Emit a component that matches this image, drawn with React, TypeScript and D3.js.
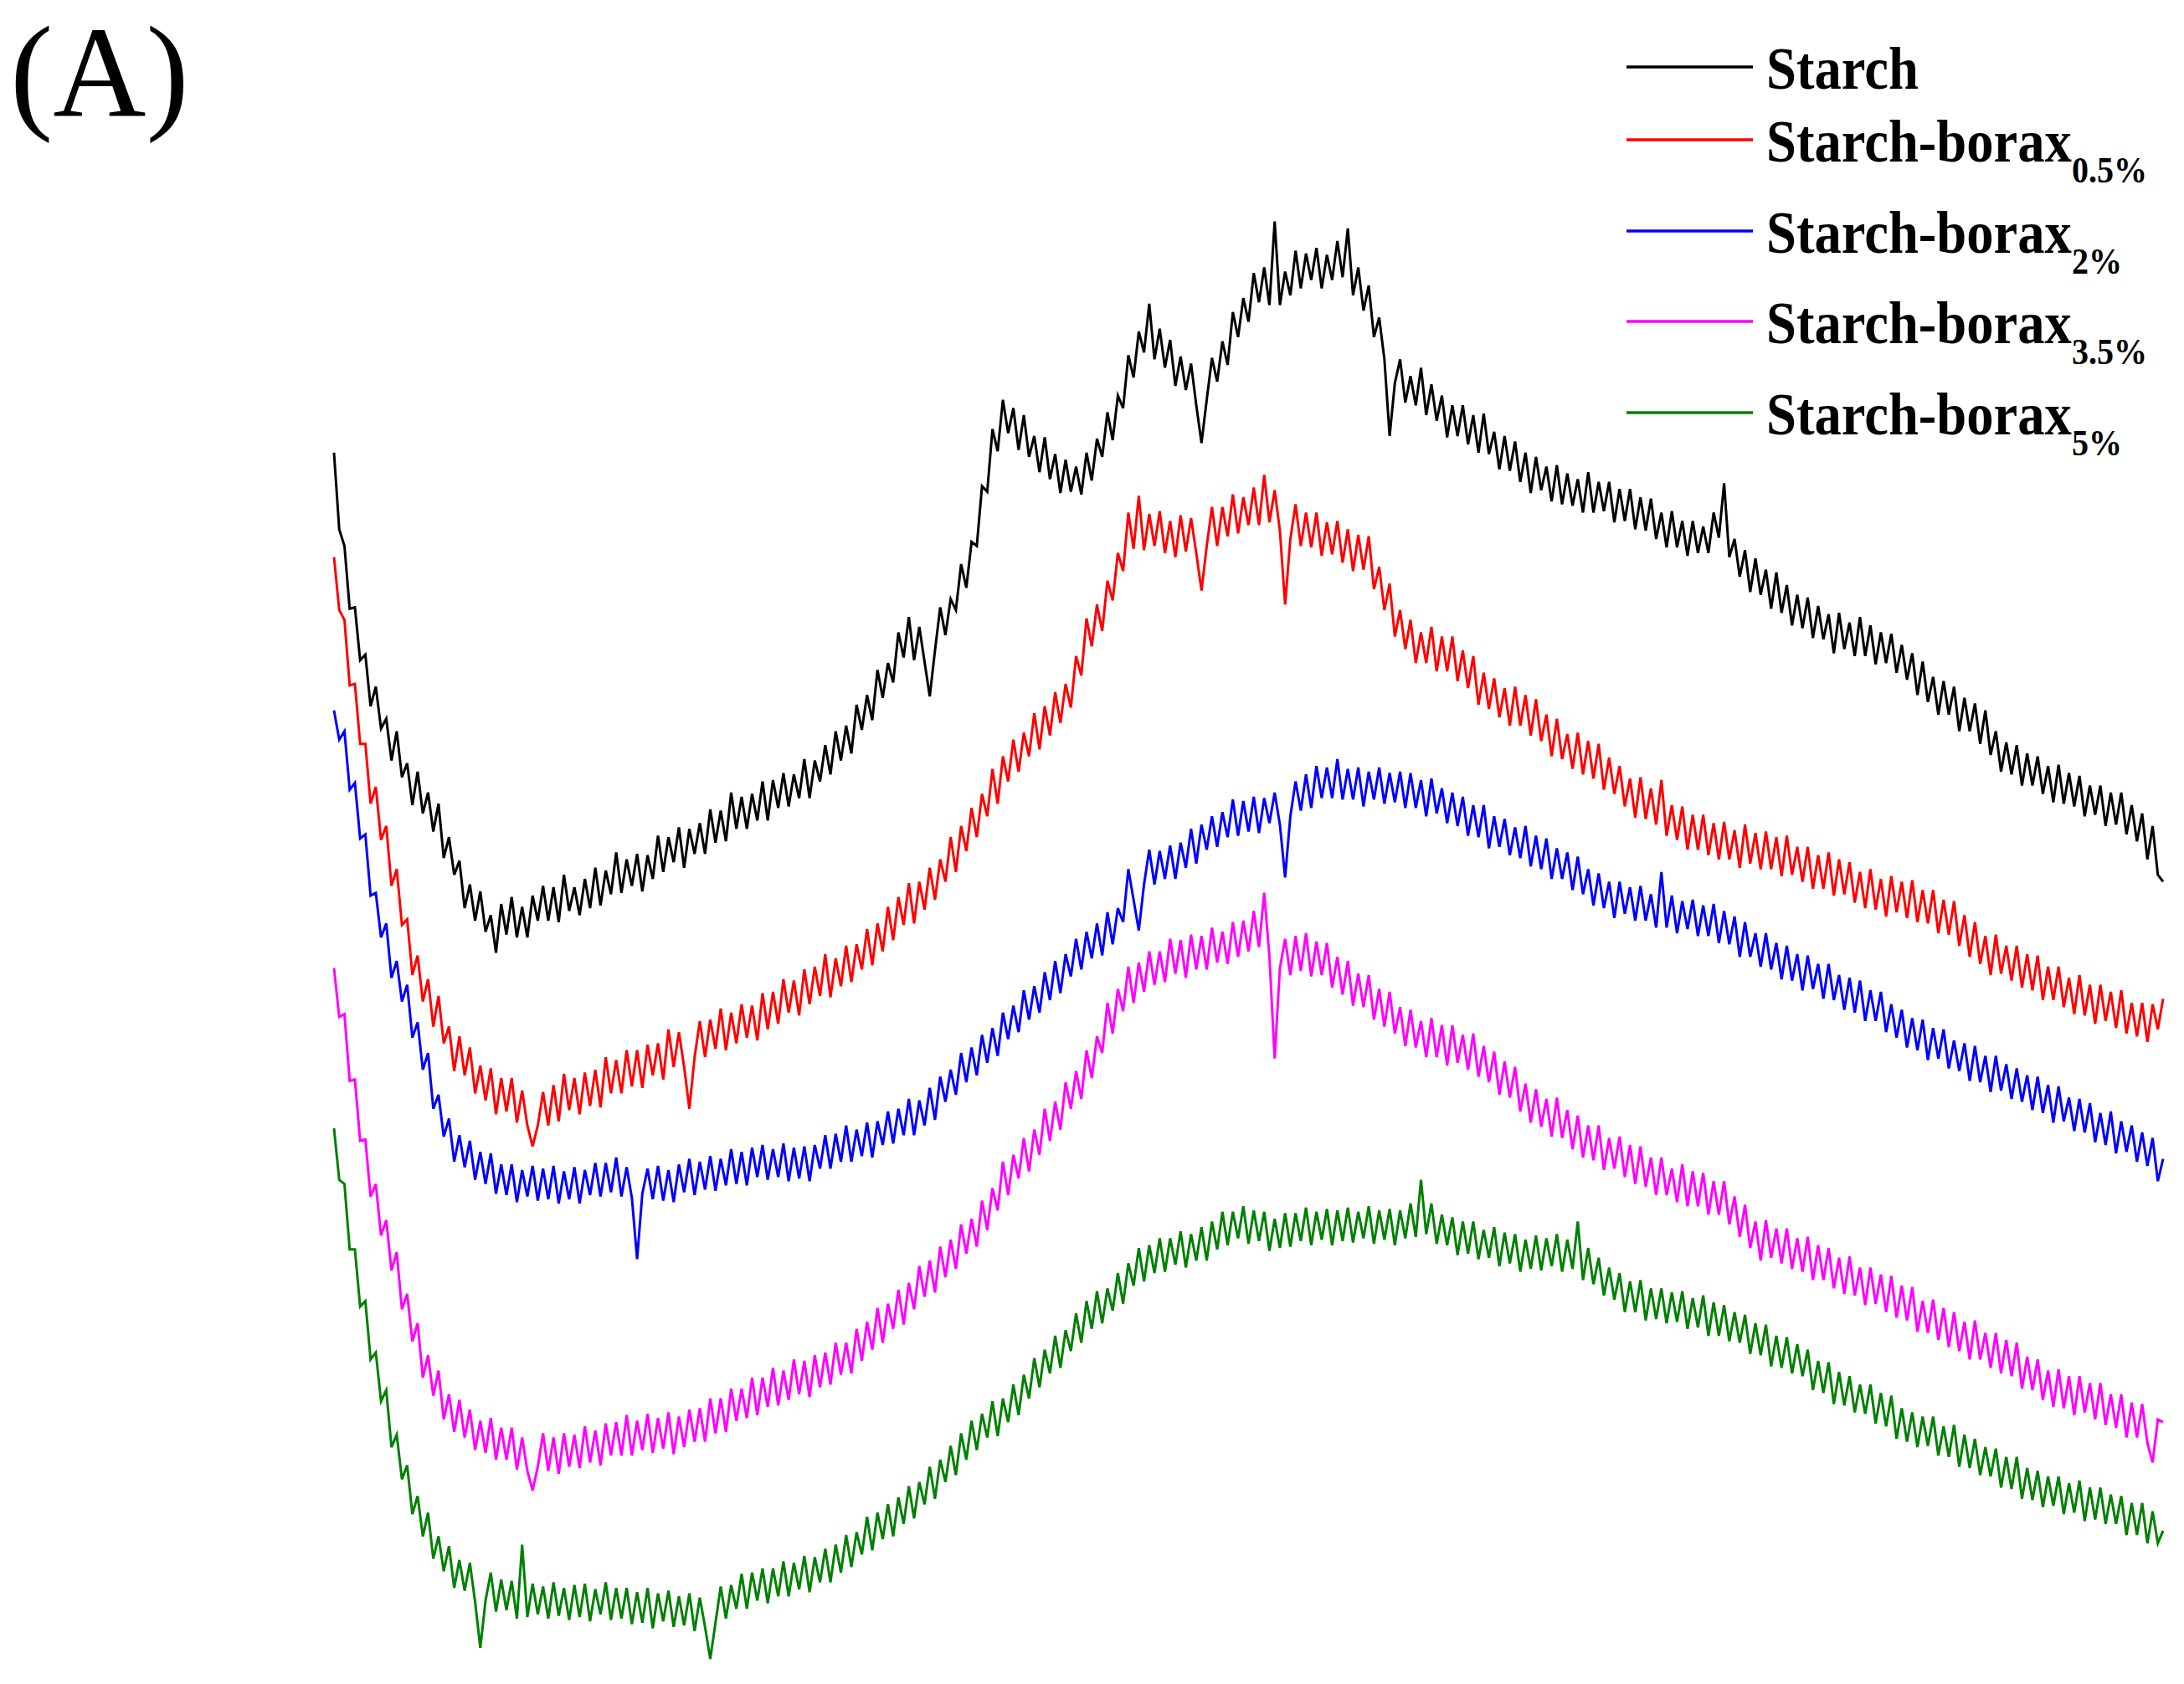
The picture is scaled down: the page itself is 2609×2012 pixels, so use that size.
import * as d3 from 'd3';

// 2-theta grid (deg): one reading every 0.1 deg from 5 to 40
const twoTheta = d3.range(351).map(i => +(5 + i * 0.1).toFixed(1));

// intensities (a.u., the five patterns are stacked with offsets)
const starch = [
  884, 829, 817, 772, 773, 735, 739, 702, 716, 686, 693, 663, 684, 651, 661, 631, 655, 625, 640, 612,
  632, 593, 608, 581, 591, 557, 574, 548, 569, 540, 552, 525, 560, 538, 565, 536, 558, 536, 566, 548,
  573, 548, 572, 547, 581, 555, 572, 552, 578, 557, 586, 559, 584, 567, 597, 568, 592, 573, 596, 569,
  595, 578, 609, 583, 608, 590, 615, 586, 614, 596, 618, 596, 628, 604, 627, 605, 640, 614, 637, 614,
  639, 620, 648, 620, 649, 629, 654, 630, 653, 636, 664, 636, 663, 648, 674, 653, 684, 663, 688, 668,
  703, 685, 710, 692, 728, 708, 733, 719, 755, 737, 766, 735, 759, 734, 709, 742, 773, 753, 779, 771,
  804, 787, 820, 817, 860, 856, 901, 885, 922, 898, 916, 886, 911, 881, 896, 870, 895, 865, 883, 855,
  879, 856, 874, 854, 884, 864, 894, 881, 913, 893, 925, 916, 954, 938, 971, 956, 991, 951, 973, 945,
  965, 932, 953, 929, 948, 918, 891, 922, 952, 935, 964, 947, 985, 967, 995, 978, 1013, 992, 1017, 990,
  1050, 990, 1014, 997, 1029, 1002, 1027, 1008, 1031, 1002, 1026, 1008, 1036, 1010, 1045, 997, 1017, 986, 1004, 967,
  981, 951, 896, 934, 951, 920, 939, 918, 945, 911, 933, 907, 925, 895, 918, 896, 918, 890, 911, 884,
  912, 883, 899, 872, 896, 871, 892, 863, 884, 855, 881, 857, 874, 849, 875, 847, 869, 846, 865, 841,
  870, 841, 863, 842, 863, 834, 858, 835, 858, 829, 852, 828, 851, 822, 841, 816, 842, 816, 835, 810,
  835, 812, 831, 812, 841, 823, 862, 809, 822, 795, 814, 784, 808, 782, 800, 772, 798, 769, 789, 760,
  782, 758, 780, 751, 774, 750, 768, 740, 769, 743, 762, 738, 766, 738, 760, 732, 755, 733, 754, 726,
  746, 721, 740, 710, 734, 705, 723, 696, 720, 696, 716, 684, 708, 684, 704, 675, 699, 667, 684, 655,
  676, 653, 674, 645, 668, 645, 666, 639, 659, 633, 660, 632, 654, 630, 652, 623, 645, 624, 645, 616,
  640, 617, 640, 610, 631, 605, 625, 592, 616, 581, 576,
];

const borax05 = [
  809, 771, 764, 717, 718, 675, 675, 632, 644, 606, 616, 573, 585, 545, 549, 509, 523, 490, 506, 472,
  494, 460, 472, 440, 465, 437, 457, 424, 444, 419, 442, 409, 435, 411, 435, 403, 426, 401, 386, 401,
  425, 401, 430, 404, 438, 412, 435, 409, 439, 415, 441, 414, 450, 424, 448, 424, 455, 429, 455, 428,
  459, 437, 460, 434, 470, 443, 468, 443, 413, 450, 476, 450, 477, 456, 485, 455, 482, 460, 488, 464,
  487, 462, 496, 470, 497, 474, 506, 482, 505, 480, 513, 488, 515, 494, 524, 493, 521, 501, 530, 504,
  531, 513, 542, 516, 546, 526, 558, 534, 565, 545, 575, 546, 576, 556, 586, 563, 592, 576, 608, 583,
  616, 598, 629, 608, 639, 623, 657, 632, 666, 648, 678, 655, 683, 666, 697, 671, 702, 681, 712, 690,
  718, 701, 738, 724, 765, 745, 775, 756, 792, 778, 812, 799, 841, 815, 853, 814, 840, 817, 842, 812,
  835, 809, 839, 813, 837, 812, 785, 817, 845, 817, 845, 824, 854, 826, 852, 832, 859, 832, 868, 834,
  857, 828, 775, 822, 847, 817, 841, 816, 841, 810, 834, 811, 835, 805, 829, 799, 825, 800, 824, 786,
  802, 771, 790, 752, 771, 743, 764, 733, 755, 733, 759, 727, 752, 727, 752, 720, 742, 715, 738, 703,
  726, 700, 722, 694, 715, 688, 716, 688, 710, 681, 707, 677, 696, 666, 693, 664, 682, 657, 683, 653,
  677, 650, 675, 642, 665, 639, 659, 630, 650, 622, 651, 621, 643, 617, 649, 609, 631, 606, 630, 599,
  624, 599, 624, 595, 618, 592, 619, 592, 613, 586, 617, 589, 611, 585, 612, 585, 608, 580, 609, 581,
  601, 576, 601, 571, 595, 571, 597, 566, 592, 567, 590, 561, 583, 557, 585, 556, 578, 551, 580, 554,
  576, 550, 577, 547, 570, 546, 570, 539, 563, 538, 562, 530, 552, 522, 547, 517, 537, 509, 538, 510,
  530, 505, 530, 500, 524, 498, 523, 491, 515, 491, 515, 486, 507, 481, 509, 480, 502, 474, 502, 476,
  497, 471, 498, 467, 489, 465, 489, 461, 488, 470, 492,
];

const borax2 = [
  699, 678, 684, 642, 647, 607, 610, 566, 568, 536, 546, 507, 519, 490, 502, 464, 475, 441, 453, 413,
  423, 393, 406, 375, 394, 371, 390, 362, 382, 359, 381, 352, 373, 351, 373, 346, 369, 350, 372, 347,
  370, 348, 372, 345, 368, 348, 371, 345, 369, 351, 374, 350, 374, 353, 378, 350, 371, 349, 305, 352,
  370, 348, 372, 347, 369, 346, 373, 353, 377, 351, 375, 355, 379, 354, 377, 358, 384, 359, 382, 358,
  385, 364, 387, 362, 384, 364, 388, 361, 385, 363, 386, 361, 387, 370, 394, 370, 395, 375, 401, 375,
  398, 379, 403, 378, 404, 387, 411, 388, 413, 394, 420, 394, 419, 401, 428, 405, 436, 418, 441, 423,
  453, 432, 457, 437, 466, 446, 471, 451, 482, 463, 487, 468, 498, 477, 501, 482, 511, 491, 519, 496,
  524, 508, 535, 513, 540, 521, 546, 523, 554, 531, 557, 547, 585, 563, 541, 574, 599, 574, 598, 578,
  602, 578, 604, 586, 614, 589, 617, 599, 623, 601, 626, 608, 635, 609, 634, 612, 637, 611, 636, 618,
  640, 617, 579, 623, 648, 627, 653, 629, 659, 636, 658, 636, 664, 635, 657, 635, 658, 630, 655, 635,
  658, 632, 654, 633, 655, 629, 654, 629, 649, 623, 650, 625, 643, 618, 640, 616, 637, 609, 631, 608,
  631, 600, 623, 601, 621, 595, 615, 593, 616, 587, 609, 585, 607, 578, 600, 578, 597, 570, 594, 567,
  585, 559, 582, 557, 576, 550, 576, 553, 572, 548, 573, 548, 567, 543, 583, 543, 566, 539, 562, 542,
  563, 537, 559, 537, 560, 532, 555, 531, 551, 522, 547, 522, 539, 515, 539, 513, 532, 506, 530, 505,
  524, 498, 523, 499, 517, 492, 517, 491, 509, 484, 507, 482, 505, 476, 498, 476, 497, 468, 488, 464,
  484, 457, 478, 455, 477, 448, 471, 449, 470, 442, 462, 440, 460, 433, 458, 432, 451, 425, 451, 426,
  445, 420, 442, 418, 437, 412, 436, 410, 430, 403, 429, 404, 421, 397, 420, 396, 417, 389, 410, 387,
  411, 381, 404, 382, 401, 375, 396, 372, 392, 361, 377,
];

const borax35 = [
  514, 479, 481, 433, 434, 390, 391, 350, 359, 322, 333, 297, 310, 269, 280, 246, 259, 220, 236, 207,
  225, 190, 208, 181, 204, 177, 197, 168, 189, 166, 191, 161, 184, 161, 184, 154, 177, 153, 139, 156,
  180, 153, 177, 151, 180, 156, 179, 155, 185, 159, 182, 157, 187, 164, 188, 164, 193, 164, 189, 168,
  194, 166, 191, 169, 195, 165, 192, 170, 197, 174, 198, 174, 205, 180, 205, 181, 212, 189, 212, 191,
  220, 193, 220, 199, 227, 200, 225, 204, 233, 208, 232, 206, 236, 213, 238, 215, 245, 222, 245, 223,
  255, 232, 260, 240, 270, 245, 273, 255, 283, 258, 288, 269, 300, 278, 304, 281, 314, 292, 319, 298,
  330, 309, 334, 314, 347, 326, 356, 340, 375, 351, 380, 363, 392, 368, 398, 380, 413, 390, 418, 398,
  432, 413, 440, 420, 455, 435, 465, 453, 489, 467, 499, 483, 515, 489, 518, 497, 526, 502, 526, 504,
  535, 510, 534, 507, 538, 513, 537, 513, 543, 518, 540, 517, 547, 522, 548, 526, 555, 529, 568, 522,
  449, 514, 535, 509, 537, 512, 539, 508, 533, 509, 532, 500, 522, 495, 519, 487, 510, 486, 509, 477,
  499, 472, 497, 467, 486, 458, 484, 457, 476, 450, 478, 450, 473, 444, 473, 446, 466, 441, 467, 436,
  458, 432, 454, 423, 447, 421, 443, 411, 431, 403, 427, 400, 420, 393, 421, 392, 412, 384, 408, 378,
  401, 376, 401, 369, 392, 370, 393, 364, 387, 359, 386, 357, 378, 351, 378, 351, 370, 346, 373, 343,
  368, 343, 367, 337, 361, 337, 361, 330, 350, 321, 344, 313, 332, 304, 333, 306, 327, 302, 327, 298,
  320, 296, 321, 290, 315, 290, 313, 284, 306, 280, 307, 279, 299, 272, 299, 273, 294, 267, 293, 263,
  286, 261, 285, 253, 275, 252, 276, 247, 270, 242, 267, 239, 260, 233, 261, 233, 252, 227, 252, 223,
  247, 221, 245, 212, 235, 211, 233, 204, 225, 199, 226, 198, 221, 193, 221, 195, 216, 190, 216, 186,
  208, 184, 208, 177, 202, 177, 201, 173, 159, 190, 188,
];

const borax5 = [
  399, 362, 359, 312, 312, 271, 275, 233, 238, 203, 211, 170, 179, 147, 157, 122, 135, 106, 123, 90,
  106, 81, 99, 69, 89, 67, 87, 59, 26, 60, 80, 52, 75, 53, 74, 47, 100, 48, 72, 50,
  70, 47, 73, 49, 69, 46, 71, 48, 72, 45, 68, 50, 73, 46, 69, 47, 69, 43, 66, 44,
  69, 40, 65, 45, 67, 41, 63, 42, 65, 38, 62, 41, 18, 44, 70, 47, 71, 54, 79, 54,
  80, 60, 83, 58, 83, 63, 88, 63, 87, 68, 92, 66, 91, 73, 97, 73, 100, 80, 107, 84,
  109, 93, 120, 96, 123, 104, 129, 106, 134, 115, 142, 119, 145, 129, 156, 133, 161, 145, 171, 150,
  180, 161, 189, 168, 194, 177, 203, 178, 205, 188, 215, 193, 222, 205, 234, 213, 240, 223, 250, 227,
  254, 239, 266, 245, 275, 255, 282, 259, 284, 268, 295, 273, 302, 286, 313, 289, 315, 295, 320, 296,
  320, 301, 325, 299, 323, 304, 328, 304, 332, 312, 339, 315, 339, 320, 343, 316, 340, 318, 339, 311,
  334, 313, 338, 314, 338, 318, 342, 315, 339, 319, 341, 315, 340, 318, 342, 317, 339, 320, 343, 316,
  340, 319, 341, 315, 340, 320, 345, 321, 362, 323, 345, 316, 337, 315, 335, 308, 332, 309, 332, 305,
  326, 306, 328, 300, 324, 302, 323, 296, 319, 298, 322, 297, 320, 300, 323, 296, 319, 298, 332, 290,
  313, 287, 306, 279, 299, 276, 295, 267, 289, 267, 290, 261, 284, 262, 284, 259, 281, 260, 282, 255,
  277, 256, 279, 250, 274, 250, 272, 246, 267, 245, 265, 237, 259, 236, 258, 228, 250, 227, 249, 223,
  244, 221, 240, 211, 232, 209, 231, 201, 224, 200, 221, 195, 215, 194, 215, 187, 209, 185, 207, 176,
  198, 174, 195, 170, 192, 171, 192, 164, 185, 163, 186, 156, 179, 155, 176, 150, 170, 149, 169, 141,
  163, 140, 163, 133, 155, 132, 153, 127, 149, 128, 149, 122, 144, 123, 146, 117, 141, 118, 141, 115,
  136, 115, 135, 107, 130, 107, 130, 101, 124, 101, 110,
];

const seriesNames = ['Starch', 'Starch-borax', 'Starch-borax', 'Starch-borax', 'Starch-borax'];
const seriesSubs = ['', '0.5%', '2%', '3.5%', '5%'];
const seriesColors = ['#000000', '#ff0000', '#0000ff', '#ff00ff', '#008000'];
const seriesValues = [starch, borax05, borax2, borax35, borax5];

const W = 2609;
const H = 2012;

export default function App() {
  const x = d3.scaleLinear().domain([5, 40]).range([399, 2584]);
  const y = d3.scaleLinear().domain([0, 1209]).range([H, 0]);

  const line = d3.line<number>()
    .x((_, i) => x(twoTheta[i]))
    .y(d => y(d));

  const legendY = [80, 167, 276, 384, 493]; // row centres

  return (
    <div style={{ position: 'absolute', left: 0, top: 0 }}>
      <svg width={W} height={H} style={{ display: 'block', background: '#fff' }}>
        <text x={12} y={138} fontFamily="'Liberation Serif', 'Times New Roman', serif" fontSize={154}>(A)</text>

        {seriesValues.map((vals, i) => (
          <path key={i} d={line(vals) || ''} fill="none" stroke={seriesColors[i]}
            strokeWidth={3} strokeLinejoin="miter" />
        ))}

        <g fontFamily="'Liberation Serif', 'Times New Roman', serif" fontWeight="bold">
          {seriesNames.map((name, i) => (
            <g key={i}>
              <line x1={1943} x2={2094} y1={legendY[i]} y2={legendY[i]}
                stroke={seriesColors[i]} strokeWidth={3.5} />
              <g transform={`translate(2110,${legendY[i] + 26}) scale(0.91,1)`}>
                <text x={0} y={0} fontSize={71} fill="#000">
                  {name}
                  {seriesSubs[i] && <tspan fontSize={44} dy={25}>{seriesSubs[i]}</tspan>}
                </text>
              </g>
            </g>
          ))}
        </g>
      </svg>
    </div>
  );
}
